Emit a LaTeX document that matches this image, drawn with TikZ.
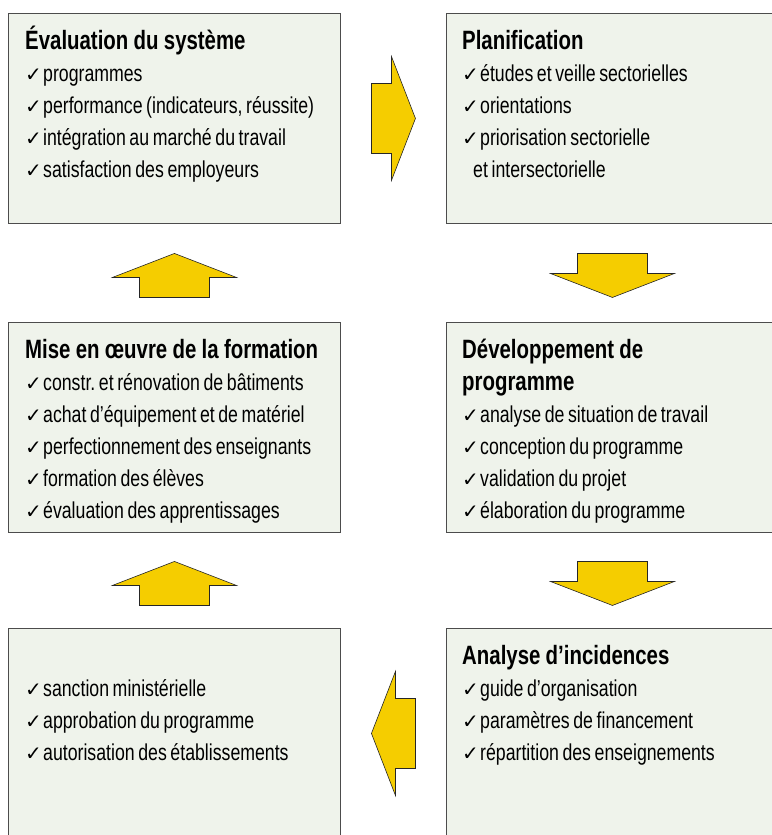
\documentclass[tikz,border=0pt]{standalone}
\usepackage{fontspec}
\setmainfont[FakeStretch=0.77]{Liberation Sans}
\newfontfamily\checkfont{DejaVu Sans Bold}
\usetikzlibrary{positioning,calc}
\definecolor{boxgreen}{RGB}{239,243,235}
\definecolor{arrowgold}{RGB}{245,205,0}
\newcommand\tightspace{\spaceskip=3.6pt\xspaceskip=3.6pt}
\newcommand\chk{\makebox[18pt][l]{\checkfont\fontsize{20}{32}\selectfont ✓}}
\newcommand\stagehead[1]{{\bfseries\fontsize{26.5}{32}\selectfont\spaceskip=5.3pt #1}}
\frenchspacing

\begin{document}
\begin{tikzpicture}[
x=1pt, y=-1pt,
stage/.style={
  draw=black!70,
  line width=0.9pt,
  fill=boxgreen,
  minimum width=332pt,
  minimum height=210pt,
  inner sep=0pt,
  anchor=north west
  },
stagetext/.style={
  anchor=base west,
  inner sep=0pt,
  text width=340pt,
  align=left,
  font=\fontsize{23}{32}\selectfont,
  execute at begin node=\tightspace
  },
flowarrow/.pic={
  \draw[draw=black!85, line width=0.6pt, fill=arrowgold]
    (-22,35) -- (-2,35) -- (-2,62) -- (22,0) -- (-2,-62) -- (-2,-35) -- (-22,-35) -- cycle;
  }
]
\useasboundingbox (0,0) rectangle (771,835);
\node[stage] (eval) at (8,13) {};
\node[stage] (plan) at (446,13) {};
\node[stage] (mise) at (8,322) {};
\node[stage] (devel) at (446,322) {};
\node[stage] (sanction) at (8,628) {};
\node[stage] (incid) at (446,628) {};

\node[stagetext] (evaltext) at ([xshift=17pt,yshift=-36pt]eval.north west) {%
  \stagehead{Évaluation du système}\\
  \chk programmes\\
  \chk performance (indicateurs, réussite)\\
  \chk intégration au marché du travail\\
  \chk satisfaction des employeurs};
\node[stagetext] (plantext) at ([xshift=16pt,yshift=-36pt]plan.north west) {%
  \stagehead{Planification}\\
  \chk études et veille sectorielles\\
  \chk orientations\\
  \chk priorisation sectorielle\\
  \hspace*{11pt}et intersectorielle};
\node[stagetext] (misetext) at ([xshift=17pt,yshift=-36pt]mise.north west) {%
  \stagehead{Mise en œuvre de la formation}\\
  \chk constr. et rénovation de bâtiments\\
  \chk achat d’équipement et de matériel\\
  \chk perfectionnement des enseignants\\
  \chk formation des élèves\\
  \chk évaluation des apprentissages};
\node[stagetext] (develtext) at ([xshift=16pt,yshift=-36pt]devel.north west) {%
  \stagehead{Développement de}\\
  \stagehead{programme}\\
  \chk analyse de situation de travail\\
  \chk conception du programme\\
  \chk validation du projet\\
  \chk élaboration du programme};
\node[stagetext] (sanctiontext) at ([xshift=17pt,yshift=-68pt]sanction.north west) {%
  \chk sanction ministérielle\\
  \chk approbation du programme\\
  \chk autorisation des établissements};
\node[stagetext] (incidtext) at ([xshift=16pt,yshift=-36pt]incid.north west) {%
  \stagehead{Analyse d’incidences}\\
  \chk guide d’organisation\\
  \chk paramètres de financement\\
  \chk répartition des enseignements};

\path ($(eval.east)!0.5!(plan.west)$) pic {flowarrow};
\path ([yshift=-2.5pt]$(plan.south)!0.5!(devel.north)$) pic[rotate=-90] {flowarrow};
\path ([yshift=-3pt]$(devel.south)!0.5!(incid.north)$) pic[rotate=-90] {flowarrow};
\path ($(incid.west)!0.5!(sanction.east)$) pic[rotate=180] {flowarrow};
\path ([yshift=-3pt]$(sanction.north)!0.5!(mise.south)$) pic[rotate=90] {flowarrow};
\path ([yshift=-2.5pt]$(mise.north)!0.5!(eval.south)$) pic[rotate=90] {flowarrow};
\end{tikzpicture}
\end{document}
